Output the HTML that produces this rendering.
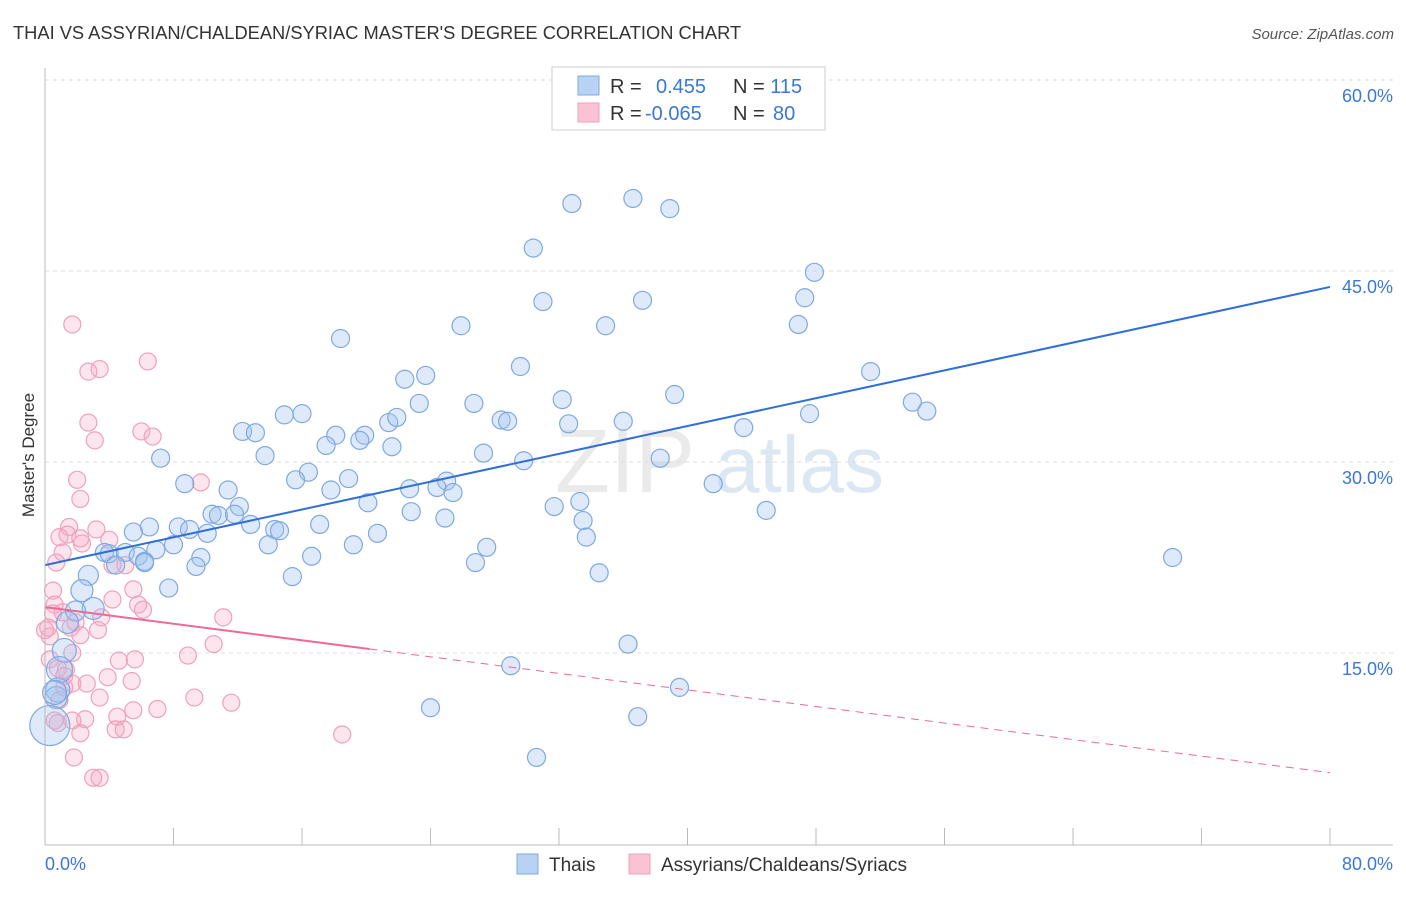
<!DOCTYPE html>
<html><head><meta charset="utf-8"><style>
body{margin:0;background:#fff;font-family:"Liberation Sans",sans-serif}
svg text{font-family:"Liberation Sans",sans-serif}
</style></head><body>
<svg id="chart" width="1406" height="892" viewBox="0 0 1406 892">
<text x="13" y="39" font-size="18.3" fill="#333">THAI VS ASSYRIAN/CHALDEAN/SYRIAC MASTER'S DEGREE CORRELATION CHART</text>
<text x="1394" y="39" font-size="15" fill="#555" text-anchor="end" font-style="italic">Source: ZipAtlas.com</text>
<g id="grid"></g>
<g><text x="555" y="492" font-size="90" fill="#ddd" font-family="Liberation Serif,serif" opacity="0.6">ZIP</text><text x="715" y="492" font-size="80" fill="#c5d8ee" opacity="0.6">atlas</text></g>
<g id="pts"></g>
<g id="lines"></g>
<line x1="45" y1="68" x2="45" y2="845" stroke="#bbb"/>
<line x1="45" y1="845" x2="1393" y2="845" stroke="#bbb"/>
<text x="45" y="870" font-size="18" fill="#3a78d8">0.0%</text>
<text x="1393" y="870" font-size="18" fill="#3a78d8" text-anchor="end">80.0%</text>
<text transform="translate(34,455) rotate(-90)" font-size="17" fill="#333" text-anchor="middle">Master's Degree</text>
<g>
<rect x="552" y="67" width="273" height="63" fill="#fff" stroke="#ccc"/>
<rect x="578" y="76" width="21" height="19" fill="#b8d2f3" stroke="#7fa9e0"/>
<rect x="578" y="103" width="21" height="19" fill="#f9c3d3" stroke="#f0a0bb"/>
<text x="610" y="93" font-size="20" fill="#333">R = <tspan fill="#3a78d8" x="656">0.455</tspan><tspan x="733">N = </tspan><tspan fill="#3a78d8">115</tspan></text>
<text x="610" y="120" font-size="20" fill="#333">R = <tspan fill="#3a78d8" x="645">-0.065</tspan><tspan x="733">N = </tspan><tspan fill="#3a78d8" x="773">80</tspan></text>
</g>
<g>
<rect x="517" y="854" width="21" height="20" fill="#b8d2f3" stroke="#7fa9e0"/>
<text x="549" y="871" font-size="19" fill="#333">Thais</text>
<rect x="629" y="854" width="21" height="20" fill="#f9c3d3" stroke="#f0a0bb"/>
<text x="661" y="871" font-size="19" fill="#333">Assyrians/Chaldeans/Syriacs</text>
</g>
</svg>
<script>
const yTicks=[15,30,45,60];
const yTickLabels=["15.0%","30.0%","45.0%","60.0%"];
const xTicks=[0,8,16,24,32,40,48,56,64,72,80];
const thaiX=[32.8,36.6,38.9,30.4,47.9,31.0,47.3,37.2,25.9,34.9,46.9,18.4,29.6,51.4,23.7,22.4,39.2,23.3,32.2,54.0,54.9,26.7,47.6,14.9,16.0,28.4,28.8,21.4,21.9,32.6,36.0,43.5,12.3,13.1,18.1,19.9,17.5,19.6,21.6,27.3,7.2,13.7,38.3,29.8,16.4,15.6,8.7,18.9,25.0,24.4,25.4,22.7,41.6,11.4,17.8,33.3,20.1,12.1,31.7,10.4,10.8,11.8,22.8,24.9,33.5,44.9,6.5,8.3,9.0,12.8,17.1,5.5,10.1,14.3,14.6,20.7,33.7,3.7,8.0,6.9,13.9,19.2,27.5,70.2,4.0,5.0,5.8,6.2,9.7,16.6,4.4,6.2,9.4,26.8,2.7,34.5,15.4,7.7,2.3,36.3,3.0,1.9,1.4,1.2,29.0,39.5,0.9,0.8,0.7,24.0,36.9,0.3,30.6,0.6];
const thaiY=[50.3,50.7,49.9,46.8,44.9,42.6,42.9,42.7,40.7,40.7,40.8,39.7,37.5,37.1,36.8,36.5,35.3,34.6,34.9,34.7,34.0,34.6,33.8,33.7,33.8,33.3,33.2,33.1,33.5,33.0,33.2,32.7,32.4,32.3,32.1,32.1,31.3,31.7,31.2,30.7,30.3,30.5,30.3,30.1,29.2,28.6,28.3,28.7,28.5,28.0,27.6,27.9,28.3,27.8,27.8,26.9,26.8,26.5,26.5,25.9,25.8,25.9,26.1,25.6,25.4,26.2,24.9,24.9,24.7,25.1,25.1,24.5,24.4,24.7,24.6,24.4,24.1,22.9,23.5,23.1,23.5,23.5,23.3,22.5,22.8,22.9,22.6,22.2,22.5,22.6,21.9,22.1,21.8,22.1,21.1,21.3,21.0,20.1,19.9,15.7,18.5,18.3,17.4,15.2,14.0,12.3,13.7,12.1,11.5,10.7,10.0,9.3,6.8,11.9];
const thaiSize=[9,9,9,9,9,9,9,9,9,9,9,9,9,9,9,9,9,9,9,9,9,9,9,9,9,9,9,9,9,9,9,9,9,9,9,9,9,9,9,9,9,9,9,9,9,9,9,9,9,9,9,9,9,9,9,9,9,9,9,9,9,9,9,9,9,9,9,9,9,9,9,9,9,9,9,9,9,9,9,9,9,9,9,9,9,9,9,9,9,9,9,9,9,9,10,9,9,9,11,9,11,10,11,12,9,9,13,12,11,9,9,20,9,12];
const asyX=[1.7,6.4,3.4,2.7,2.7,6.0,6.7,3.1,9.7,2.0,2.2,1.5,3.2,1.4,2.3,2.2,4.0,0.9,1.1,4.2,5.0,0.7,5.5,0.5,4.2,0.6,5.8,6.1,1.1,0.5,3.5,1.9,11.1,1.6,0.2,0.3,2.2,3.3,10.5,1.7,0.8,4.6,8.9,5.6,1.3,1.2,3.9,1.7,2.6,5.4,9.3,3.4,11.6,7.0,5.5,4.5,2.5,1.7,0.8,0.6,4.4,4.9,2.2,18.5,1.8,3.0,3.4,1.2,0.9,0.0,0.3];
const asyY=[40.8,37.9,37.3,37.1,33.1,32.4,32.0,31.7,28.4,28.6,27.1,24.9,24.7,24.3,23.6,24.0,23.9,24.1,22.9,21.9,21.9,22.1,20.0,19.9,19.2,18.8,18.8,18.4,18.2,18.1,17.8,17.4,17.8,17.0,17.0,16.3,16.4,16.8,15.7,15.0,13.8,14.4,14.8,14.5,13.7,13.2,13.1,12.6,12.6,12.8,11.5,11.5,11.1,10.6,10.5,10.0,9.8,9.7,9.5,9.7,9.0,9.0,8.7,8.6,6.8,5.2,5.2,12.3,11.3,16.8,14.5];
const thaiTrend=[21.9,43.75];
const asyTrend=[18.6,5.6];
const asySolidEnd=20.2;
const NS='http://www.w3.org/2000/svg';
function xs(v){return 45+v/80*1285;}
function ys(v){return 844-v*12.733;}
function mk(tag,attrs,parent){const e=document.createElementNS(NS,tag);for(const k in attrs)e.setAttribute(k,attrs[k]);parent.appendChild(e);return e;}
const grid=document.getElementById('grid');
yTicks.forEach((t,i)=>{
 const l=mk('line',{x1:45,x2:1393,y1:ys(t),y2:ys(t),stroke:'#ddd','stroke-dasharray':'4,4'},grid);
 
 
 const tx=mk('text',{x:1393,y:ys(t)+22,'font-size':18,fill:'#3a78d8','text-anchor':'end'},grid);
 tx.textContent=yTickLabels[i];
 
 
});
xTicks.forEach(t=>{
 const l=mk('line',{x1:xs(t),x2:xs(t),y1:828,y2:845,stroke:'#bbb'},grid);
 
 
});
const pts=document.getElementById('pts');
asyX.forEach((x,i)=>{
 const c=mk('circle',{cx:xs(x),cy:ys(asyY[i]),r:8.5,fill:'rgba(246,170,196,0.3)',stroke:'#f0a0bb','stroke-width':1.2},pts);
 
 
});
thaiX.forEach((x,i)=>{
 const c=mk('circle',{cx:xs(x),cy:ys(thaiY[i]),r:thaiSize[i],fill:'rgba(160,196,240,0.35)',stroke:'#7fa9e0','stroke-width':1.2},pts);
 
 
});
const lines=document.getElementById('lines');
const bl=mk('line',{x1:xs(0),y1:ys(thaiTrend[0]),x2:xs(80),y2:ys(thaiTrend[1]),stroke:'#2f6fd6','stroke-width':2},lines);


const slope=(asyTrend[1]-asyTrend[0])/80;
const pe=asyTrend[0]+slope*asySolidEnd;
const pl=mk('line',{x1:xs(0),y1:ys(asyTrend[0]),x2:xs(asySolidEnd),y2:ys(pe),stroke:'#ec6a96','stroke-width':2},lines);


const pd=mk('line',{x1:xs(asySolidEnd),y1:ys(pe),x2:xs(80),y2:ys(asyTrend[1]),stroke:'#ec6a96','stroke-width':1,'stroke-dasharray':'8,6'},lines);


</script>
</body></html>
